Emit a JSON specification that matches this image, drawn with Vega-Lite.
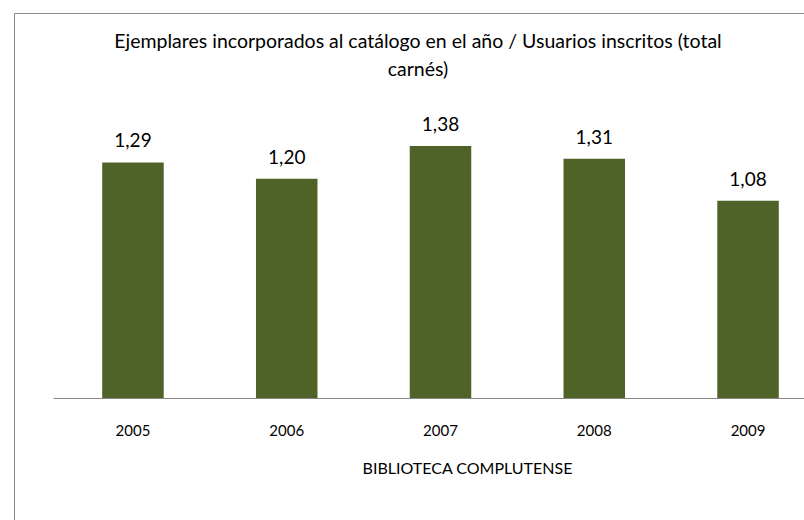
{
  "$schema": "https://vega.github.io/schema/vega-lite/v6.json",
  "usermeta": {"embedOptions": {"actions": false}},
  "autosize": {"type": "none"},
  "width": 790,
  "height": 507,
  "padding": {"left": 14, "top": 13, "right": 0, "bottom": 0},
  "background": "white",
  "config": {
    "view": {"stroke": null},
    "font": "Lato",
    "locale": {"number": {"decimal": ",", "thousands": ".", "grouping": [3], "currency": ["", " €"]}}
  },
  "title": {
    "text": ["Ejemplares incorporados al catálogo en el año / Usuarios inscritos (total", "carnés)"],
    "fontSize": 19.5,
    "fontWeight": "normal",
    "font": "Lato",
    "color": "#000000",
    "lineHeight": 28,
    "anchor": "start",
    "dx": 404,
    "align": "center",
    "offset": -67
  },
  "data": {
    "values": [
      {"year": "2005", "value": 1.29},
      {"year": "2006", "value": 1.20},
      {"year": "2007", "value": 1.38},
      {"year": "2008", "value": 1.31},
      {"year": "2009", "value": 1.08}
    ]
  },
  "resolve": {"scale": {"x": "independent"}, "axis": {"x": "independent"}},
  "layer": [
    {
      "encoding": {
        "x": {
          "field": "year",
          "type": "nominal",
          "scale": {"range": [39, 814], "paddingInner": 0.6, "paddingOuter": 0.32},
          "axis": {
            "orient": "bottom",
            "title": "BIBLIOTECA COMPLUTENSE",
            "titleFont": "Lato",
            "titleFontSize": 16,
            "titleFontWeight": "normal",
            "titleColor": "#000000",
            "titlePadding": 22,
            "titleX": 453,
            "labelFont": "Lato",
            "labelFontSize": 15,
            "labelColor": "#000000",
            "labelAngle": 0,
            "labelPadding": 25,
            "ticks": false,
            "domainColor": "#868686",
            "domainWidth": 1,
            "offset": -122
          }
        },
        "y": {
          "field": "value",
          "type": "quantitative",
          "scale": {"domain": [-0.668, 2.108], "nice": false, "zero": false},
          "axis": {"orient": "left", "labels": false, "ticks": false, "grid": false, "title": null, "domainColor": "#8c8c8c", "domainWidth": 1}
        }
      },
      "layer": [
        {"mark": {"type": "bar", "color": "#4f6228"}},
        {
          "mark": {"type": "text", "baseline": "middle", "dy": -21, "fontSize": 19, "font": "Lato", "color": "#000000"},
          "encoding": {"text": {"field": "value", "type": "quantitative", "format": ".2f"}}
        }
      ]
    },
    {
      "mark": {"type": "text", "text": "", "opacity": 0},
      "encoding": {
        "x": {
          "field": "year",
          "type": "nominal",
          "scale": {"range": [0, 810]},
          "axis": {"orient": "top", "labels": false, "ticks": false, "grid": false, "title": null, "domainColor": "#8c8c8c", "domainWidth": 1}
        }
      }
    }
  ]
}
